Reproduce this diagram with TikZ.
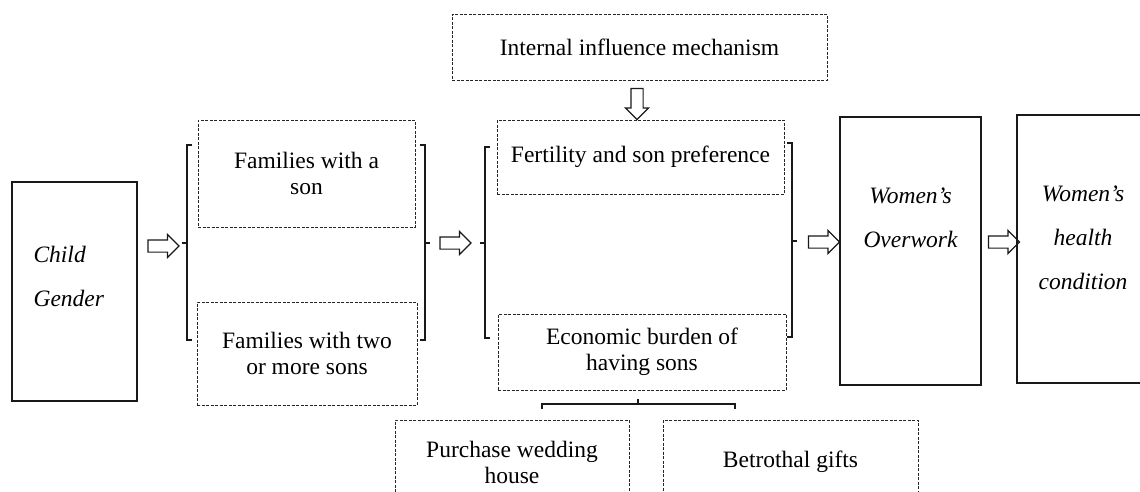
\documentclass[tikz,border=0pt]{standalone}
\usepackage{fontspec}
\setmainfont{Liberation Serif}
\usetikzlibrary{shapes.arrows, calc}

\tikzset{
  dashbox/.style={draw=black!85, line width=0.9pt, dash pattern=on 3pt off 1.5pt, align=center, inner sep=0pt},
  solidbox/.style={draw=black!90, line width=1.8pt},
  blockarrow/.style={single arrow, draw=black!90, line width=1.2pt, inner sep=5.5pt, minimum height=31pt, single arrow head extend=5.5pt, single arrow head indent=0pt},
  brk/.style={line width=1.2pt, black!90},
  itext/.style={font=\itshape\fontsize{23.5}{44}\selectfont},
}

\begin{document}
\begin{tikzpicture}[x=1pt, y=-1pt, font=\fontsize{23.5}{26}\selectfont]
    \useasboundingbox (0,0) rectangle (1140,491);
    % Cause
    \node[solidbox, minimum width=125pt, minimum height=219pt] (child) at (74.5,291.5) {};
    \node[itext, anchor=west, align=left] (childtxt) at (30,276) {Child\\Gender};
    \node[blockarrow] (a1) at (160.5,246) {};
    % Family types
    \node[dashbox, minimum width=217pt, minimum height=107pt] (fam1) at (306.5,173.5) {Families with a\\son};
    \node[dashbox, minimum width=220pt, minimum height=103pt] (fam2) at (307,353.5) {Families with two\\or more sons};
    \draw[brk] (192,145) -- (187,145) -- (187,340) -- (192,340);
    \draw[brk] (187,243) -- (182,243);
    \draw[brk] (420,145) -- (425,145) -- (425,340) -- (420,340);
    \draw[brk] (425,243) -- (430,243);
    \node[blockarrow] (a2) at (452.5,243) {};
    % Mechanism
    \node[dashbox, minimum width=375pt, minimum height=66pt] (inner) at (639.5,47) {Internal influence mechanism};
    \node[blockarrow, shape border rotate=270] (a0) at (637,101) {};
    \node[dashbox, minimum width=287pt, minimum height=74pt] (fert) at (640.5,157) {Fertility and son preference};
    \node[dashbox, minimum width=288pt, minimum height=76pt] (econ) at (642,352) {Economic burden of\\having sons};
    \draw[brk] (490,147) -- (485,147) -- (485,338) -- (490,338);
    \draw[brk] (485,243) -- (480,243);
    \draw[brk] (787,143) -- (792,143) -- (792,337) -- (787,337);
    \draw[brk] (792,241) -- (797,241);
    % Economic burden split
    \draw[brk] (542,409) -- (542,404) -- (735,404) -- (735,409);
    \draw[brk] (638,404) -- (638,399);
    \node[dashbox, minimum width=234pt, minimum height=84pt] (house) at (512,462) {Purchase wedding\\house};
    \node[dashbox, minimum width=255pt, minimum height=84pt] (gifts) at (790.5,462) {Betrothal gifts};
    % Outcomes
    \node[blockarrow] (a3) at (821,242) {};
    \node[solidbox, minimum width=141pt, minimum height=268pt] (work) at (910.5,251) {};
    \node[itext, align=center] (worktxt) at (910.5,218) {Women’s\\Overwork};
    \node[blockarrow] (a4) at (1001,242) {};
    \node[solidbox, minimum width=130pt, minimum height=268pt] (health) at (1082,249) {};
    \node[itext, align=center] (healthtxt) at (1083,238) {Women’s\\health\\condition};
\end{tikzpicture}
\end{document}
